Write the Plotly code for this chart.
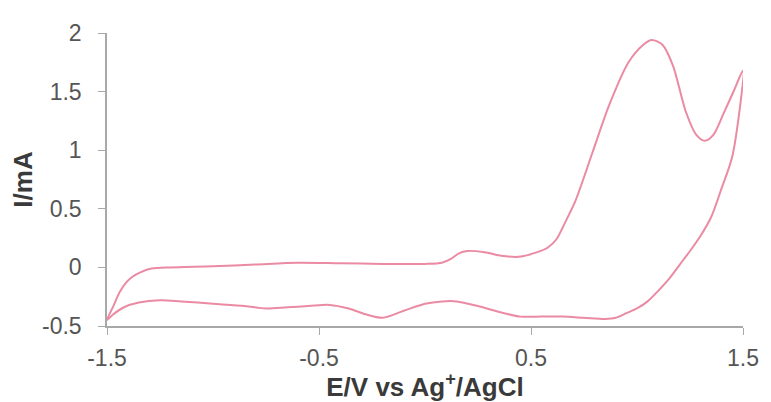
import plotly.graph_objects as go

# Forward (anodic) scan, -1.5 V -> 1.5 V
E_fwd = [-1.5, -1.47, -1.44, -1.41, -1.38, -1.34, -1.29, -1.2, -1.0, -0.8, -0.6, -0.4,
         -0.2, 0.0, 0.08, 0.12, 0.16, 0.2, 0.28, 0.36, 0.44, 0.53, 0.58, 0.62, 0.66,
         0.71, 0.79, 0.87, 0.96, 1.03, 1.07, 1.12, 1.17, 1.23, 1.28, 1.32, 1.36, 1.41,
         1.46, 1.5]
I_fwd = [-0.45, -0.33, -0.21, -0.13, -0.08, -0.04, -0.01, 0.0, 0.01, 0.025, 0.04, 0.035,
         0.03, 0.03, 0.04, 0.07, 0.12, 0.14, 0.13, 0.1, 0.09, 0.13, 0.17, 0.24, 0.38,
         0.57, 0.98, 1.39, 1.75, 1.9, 1.94, 1.9, 1.72, 1.33, 1.13, 1.08, 1.13, 1.32,
         1.52, 1.68]

# Reverse (cathodic) scan, 1.5 V -> -1.5 V
E_rev = [1.5, 1.45, 1.4, 1.35, 1.3, 1.25, 1.2, 1.15, 1.1, 1.05, 1.0, 0.95, 0.9, 0.85,
         0.75, 0.65, 0.55, 0.45, 0.35, 0.25, 0.15, 0.08, 0.0, -0.1, -0.2, -0.28, -0.36,
         -0.45, -0.55, -0.65, -0.75, -0.85, -1.0, -1.15, -1.25, -1.35, -1.42, -1.47, -1.5]
I_rev = [1.23, 0.95, 0.68, 0.43, 0.27, 0.14, 0.02, -0.1, -0.2, -0.29, -0.35, -0.39, -0.43,
         -0.44, -0.43, -0.42, -0.42, -0.42, -0.38, -0.33, -0.29, -0.29, -0.31, -0.37,
         -0.43, -0.40, -0.35, -0.32, -0.33, -0.34, -0.35, -0.33, -0.31, -0.29, -0.28,
         -0.30, -0.34, -0.40, -0.45]

x_ticks = [-1.5, -0.5, 0.5, 1.5]
x_ticktext = ["-1.5", "-0.5", "0.5", "1.5"]
y_ticks = [-0.5, 0, 0.5, 1, 1.5, 2]
y_ticktext = ["-0.5", "0", "0.5", "1", "1.5", "2"]

line_color = "#EB8AA3"

fig = go.Figure()
fig.add_trace(go.Scatter(x=E_fwd + E_rev[1:], y=I_fwd + I_rev[1:], mode="lines",
                         line=dict(color=line_color, width=2, shape="spline", smoothing=0.8),
                         showlegend=False, hoverinfo="skip"))

axis_font = dict(family="Liberation Sans, Arial, sans-serif", size=23, color="#555555")
title_font = dict(family="Liberation Sans, Arial, sans-serif", size=26, color="#3A3A3A")

# the page body adds an 8px offset, so the figure is sized to end at the window edge
fig.update_layout(
    width=763, height=394,
    margin=dict(l=96, r=21, t=17, b=72),
    paper_bgcolor="white", plot_bgcolor="white",
    xaxis=dict(range=[-1.5, 1.5], tickvals=x_ticks, ticktext=x_ticktext,
               showgrid=False, zeroline=False, showline=True, linecolor="#A8A8A8",
               linewidth=1.5, ticks="outside", ticklen=7, tickcolor="#A8A8A8",
               tickfont=axis_font, ticklabelstandoff=4,
               title=dict(text="<b>E/V vs Ag<sup>+</sup>/AgCl</b>", font=title_font, standoff=0)),
    yaxis=dict(range=[-0.5, 2], tickvals=y_ticks, ticktext=y_ticktext,
               showgrid=False, zeroline=False, showline=True, linecolor="#A8A8A8",
               linewidth=1.5, ticks="outside", ticklen=7, tickcolor="#A8A8A8",
               tickfont=axis_font, ticklabelstandoff=12,
               title=dict(text="<b>I/mA</b>", font=title_font, standoff=4)),
)

fig.write_html("out.html")
